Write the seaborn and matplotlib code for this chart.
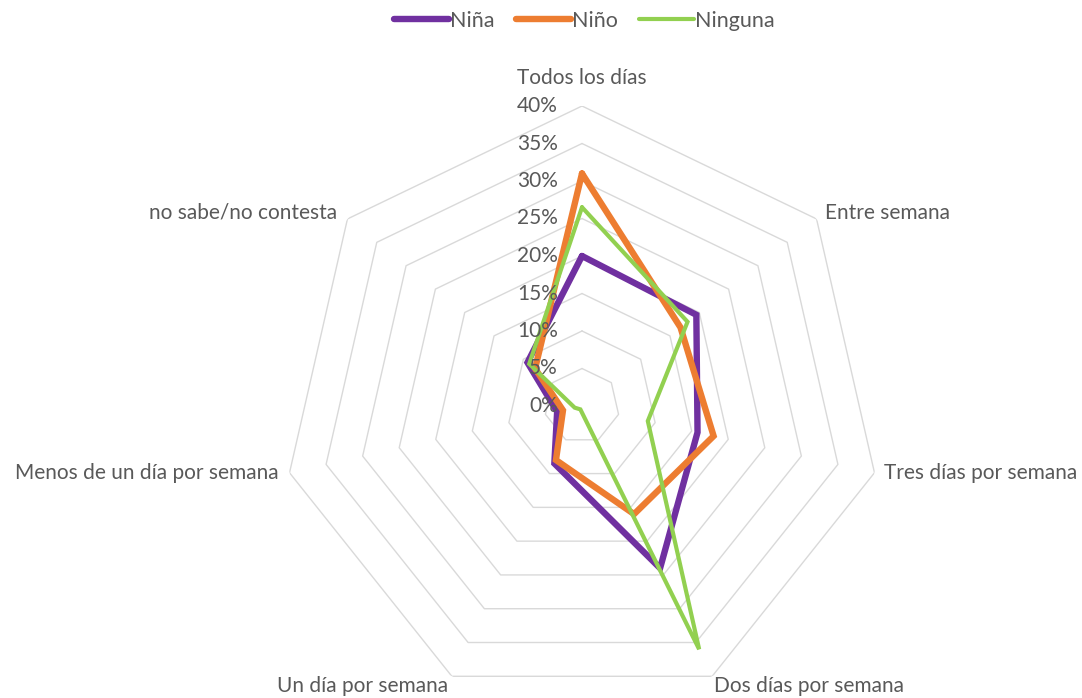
import numpy as np
import pandas as pd
import matplotlib
matplotlib.use("Agg")
import matplotlib.pyplot as plt
import matplotlib.transforms as mtransforms
import seaborn as sns

categories = ["Todos los días", "Entre semana", "Tres días por semana",
              "Dos días por semana", "Un día por semana",
              "Menos de un día por semana", "no sabe/no contesta"]
series_names = ["Niña", "Niño", "Ninguna"]
nina = [20.0, 19.5, 15.8, 24.0, 8.5, 3.4, 9.3]
nino = [31.0, 16.8, 18.0, 16.0, 8.0, 2.6, 8.0]
ninguna = [26.5, 18.0, 9.0, 36.0, 0.5, 1.0, 9.0]
tick_values = [0, 5, 10, 15, 20, 25, 30, 35, 40]
tick_labels = ["0%", "5%", "10%", "15%", "20%", "25%", "30%", "35%", "40%"]

colors = {"Niña": "#7030A0", "Niño": "#ED7D31", "Ninguna": "#92D050"}
widths = {"Niña": 4.6, "Niño": 4.6, "Ninguna": 3.0}
text_color = "#595959"

sns.set_theme(style="white")
plt.rcParams["font.family"] = ["Lato", "DejaVu Sans"]

W, H = 1082, 698
fig = plt.figure(figsize=(W / 100, H / 100), dpi=100)
cx, cy, R = 582, 406, 300
ax = fig.add_axes([(cx - R) / W, (H - cy - R) / H, 2 * R / W, 2 * R / H],
                  projection="polar")
ax.set_theta_zero_location("N")
ax.set_theta_direction(-1)

n = len(categories)
theta = np.arange(n) * 2 * np.pi / n
theta_closed = np.append(theta, 2 * np.pi)

# heptagonal grid
for v in tick_values[1:]:
    ax.plot(theta_closed, [v] * (n + 1), color="#D9D9D9", lw=1.0, zorder=1)

data_map = {"Niña": nina, "Niño": nino, "Ninguna": ninguna}
for name in series_names:
    vals = data_map[name]
    df = pd.DataFrame({"theta": theta_closed, "value": vals + [vals[0]]})
    sns.lineplot(data=df, x="theta", y="value", ax=ax, sort=False,
                 color=colors[name], lw=widths[name], label=name, zorder=3,
                 solid_joinstyle="miter")

ax.set_ylim(0, 40)
ax.set_xticks([])
ax.set_yticks([])
ax.grid(False)
ax.spines["polar"].set_visible(False)
ax.set_xlabel("")
ax.set_ylabel("")
handles, labels = ax.get_legend_handles_labels()
if ax.legend_ is not None:
    ax.legend_.remove()

FS = 15

# radial tick labels
for v, lab in zip(tick_values, tick_labels):
    t = mtransforms.offset_copy(ax.transData, fig=fig, x=-24, y=0, units="dots")
    ax.text(0, v, lab, transform=t, ha="right", va="center",
            fontsize=FS, color=text_color)

# category labels
label_specs = [
    (0, 28, "center", "center"),
    (8, 6, "left", "center"),
    (10, 0, "left", "center"),
    (2, -10, "left", "center"),
    (-4, -10, "right", "center"),
    (-11, 0, "right", "center"),
    (-10, 6, "right", "center"),
]
for th, cat, (dx, dy, ha, va) in zip(theta, categories, label_specs):
    t = mtransforms.offset_copy(ax.transData, fig=fig, x=dx, y=dy, units="dots")
    ax.text(th, 40, cat, transform=t, ha=ha, va=va, fontsize=FS, color=text_color)

fig.legend(handles, labels, loc="upper center", bbox_to_anchor=(0.54, 1.012),
           ncol=3, frameon=False, fontsize=FS + 0.5, handlelength=2.55,
           handletextpad=0.05, columnspacing=1.0, labelcolor=text_color)

fig.savefig("out.png", dpi=100, facecolor="white")
